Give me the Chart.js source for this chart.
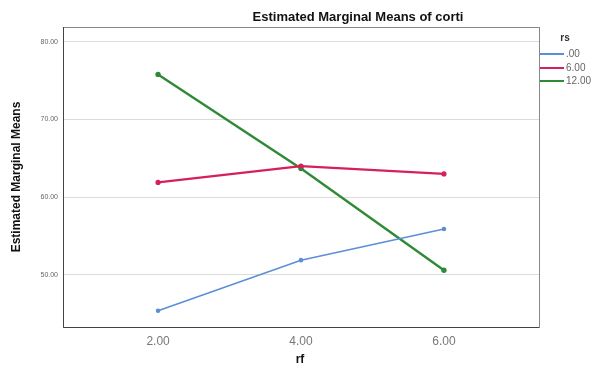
<!DOCTYPE html>
<html>
<head>
<meta charset="utf-8">
<script src="https://cdn.jsdelivr.net/npm/chart.js@4/dist/chart.umd.min.js"></script>
<style>
  html, body { margin: 0; padding: 0; background: #fff; }
  #wrap { width: 595px; height: 367px; position: relative; }
</style>
</head>
<body>
<div id="wrap"><canvas id="emm"></canvas></div>
<script>
// rf levels and the estimated means for each rs group
const rfLevels = [2, 4, 6];
const rsLabels = [".00", "6.00", "12.00"];
const rs00 = [45.4, 51.9, 55.9];
const rs06 = [61.9, 64.0, 63.0];
const rs12 = [75.8, 63.7, 50.6];
const yTicks = [50, 60, 70, 80];

const colors = ["#5b8fd6", "#d4215a", "#2f8a38"];

const toPoints = vals => vals.map((v, i) => ({ x: rfLevels[i], y: v }));

// titles, frame and legend drawn by hand, SPSS style
const decor = {
    id: "decor",
    afterDraw(chart) {
        const { ctx, chartArea: a } = chart;
        ctx.save();

        ctx.strokeStyle = "#888";
        ctx.lineWidth = 1;
        ctx.strokeRect(a.left + 0.5, a.top + 0.5, a.right - a.left, a.bottom - a.top);
        ctx.strokeStyle = "#444";
        ctx.beginPath();
        ctx.moveTo(a.left + 0.5, a.top);
        ctx.lineTo(a.left + 0.5, a.bottom + 0.5);
        ctx.lineTo(a.right, a.bottom + 0.5);
        ctx.stroke();

        ctx.fillStyle = "#111";
        ctx.textAlign = "center";
        ctx.textBaseline = "middle";
        ctx.font = "bold 13px 'Liberation Sans', Arial, sans-serif";
        ctx.fillText("Estimated Marginal Means of corti", 358, 17);

        ctx.font = "bold 12px 'Liberation Sans', Arial, sans-serif";
        ctx.fillText("rf", 300, 360);

        ctx.save();
        ctx.translate(17, 177);
        ctx.rotate(-Math.PI / 2);
        ctx.fillText("Estimated Marginal Means", 0, 0);
        ctx.restore();

        // legend
        ctx.font = "bold 10px 'Liberation Sans', Arial, sans-serif";
        ctx.fillStyle = "#333";
        ctx.fillText("rs", 565, 38);
        ctx.font = "10px 'Liberation Sans', Arial, sans-serif";
        ctx.textAlign = "left";
        const ys = [54, 68, 81];
        chart.data.datasets.forEach((ds, i) => {
            ctx.strokeStyle = ds.borderColor;
            ctx.lineWidth = 2;
            ctx.beginPath();
            ctx.moveTo(540, ys[i]);
            ctx.lineTo(564, ys[i]);
            ctx.stroke();
            ctx.fillStyle = "#666";
            ctx.fillText(ds.label, 566, ys[i]);
        });

        ctx.restore();
    }
};

const mkSet = (label, vals, color, w) => ({
    label: label,
    data: toPoints(vals),
    borderColor: color,
    backgroundColor: color,
    borderWidth: w,
    pointRadius: 1.5,
    pointHoverRadius: 1.5,
    tension: 0
});

new Chart(document.getElementById("emm"), {
    type: "line",
    data: {
        datasets: [
            mkSet(rsLabels[0], rs00, colors[0], 1.6),
            mkSet(rsLabels[1], rs06, colors[1], 2.2),
            mkSet(rsLabels[2], rs12, colors[2], 2.4)
        ]
    },
    options: {
        responsive: true,
        maintainAspectRatio: false,
        animation: false,
        layout: { padding: { top: 27, right: 56, left: 0, bottom: 0 } },
        plugins: {
            legend: { display: false },
            tooltip: { enabled: false }
        },
        scales: {
            x: {
                type: "linear",
                min: 0.67,
                max: 7.33,
                afterBuildTicks: s => { s.ticks = rfLevels.map(v => ({ value: v })); },
                afterFit: s => { s.height = 40; },
                grid: { display: false, drawTicks: false },
                border: { display: false },
                ticks: {
                    color: "#777",
                    font: { size: 12, family: "'Liberation Sans', Arial, sans-serif" },
                    padding: 7,
                    callback: v => v.toFixed(2)
                }
            },
            y: {
                min: 43.3,
                max: 81.9,
                afterBuildTicks: s => { s.ticks = yTicks.map(v => ({ value: v })); },
                afterFit: s => { s.width = 63; },
                grid: { color: "#dcdcdc", drawTicks: false },
                border: { display: false },
                ticks: {
                    color: "#666",
                    font: { size: 7, family: "'Liberation Sans', Arial, sans-serif" },
                    padding: 5,
                    callback: v => v.toFixed(2)
                }
            }
        }
    },
    plugins: [decor]
});
</script>
</body>
</html>
